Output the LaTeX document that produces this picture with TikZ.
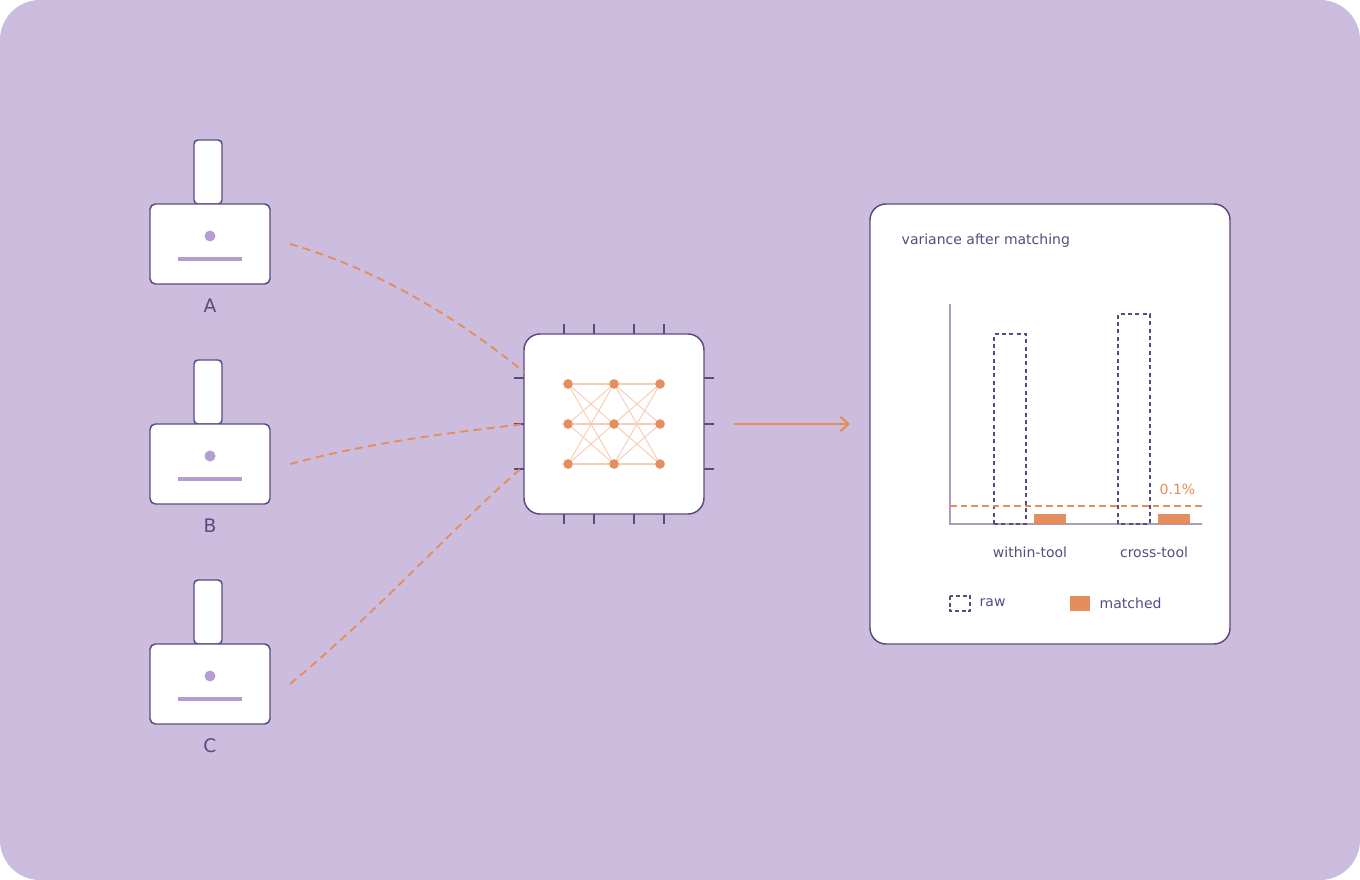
\documentclass[tikz,border=0pt]{standalone}
\usepackage{fontspec}
\setmainfont{DejaVu Sans}
\usetikzlibrary{arrows.meta}
\definecolor{bg}{HTML}{CCBCDD}
\definecolor{dk}{HTML}{5B4A80}
\definecolor{org}{HTML}{E68D5E}
\definecolor{lor}{HTML}{F5CDB5}
\definecolor{lav}{HTML}{B39DD3}
\definecolor{ax}{HTML}{A99BBE}
\begin{document}
\begin{tikzpicture}[x=0.75pt,y=-0.75pt,
  box/.style={draw=dk,fill=white,line width=1.1pt},
  lbl/.style={text=dk,font=\fontsize{10.5}{12}\selectfont},
  big/.style={text=dk,font=\fontsize{14}{16}\selectfont},
  cable/.style={org,dashed,line width=1.4pt,dash pattern=on 6pt off 4pt},
  nn/.style={circle,fill=org,inner sep=0pt,minimum size=7pt},
  pin/.style={dk,line width=1.1pt}]
\fill[bg,rounded corners=30] (0,0) rectangle (1360,880);
\useasboundingbox (0,0) rectangle (1360,880);
% tools
\foreach \n/\l/\dy in {ta/A/0,tb/B/220,tc/C/440}{
  \draw[box,rounded corners=3] (194,140+\dy) rectangle (222,204+\dy);
  \draw[box,rounded corners=4] (150,204+\dy) rectangle (270,284+\dy);
  \fill[lav] (210,236+\dy) circle (5.5);
  \draw[lav,line width=3pt] (178,259+\dy) -- (242,259+\dy);
  \coordinate (\n) at (290,244+\dy);
  \node[big] at (210,306+\dy) {\l};
}
% chip
\foreach \x in {564,594,634,664}{\draw[pin] (\x,324)--(\x,334); \draw[pin] (\x,514)--(\x,524);}
\foreach \y in {378,424,469}{\draw[pin] (514,\y)--(524,\y); \draw[pin] (704,\y)--(714,\y);}
\draw[box,rounded corners=12] (524,334) rectangle (704,514);
\coordinate (ina) at (524,372); \coordinate (inb) at (524,424); \coordinate (inc) at (524,466);
\coordinate (out) at (734,424); \coordinate (pan) at (850,424);
\foreach \i/\y in {1/384,2/424,3/464}{
  \foreach \j/\x in {1/568,2/614,3/660}{\node[nn] (n\j\i) at (\x,\y) {};}}
\begin{scope}[on background layer/.try]
\end{scope}
\foreach \a in {1,2}{ \pgfmathtruncatemacro\b{\a+1}
  \foreach \i in {1,2,3}{\foreach \k in {1,2,3}{
    \ifnum\i=\k \draw[lor,line width=1.6pt] (n\a\i)--(n\b\k);
    \else \draw[lor,line width=0.7pt] (n\a\i)--(n\b\k);\fi}}}
\foreach \i in {1,2,3}{\foreach \j in {1,2,3}{\node[nn] at (n\j\i) {};}}
% cables
\draw[cable] (ta) .. controls (380,270) and (460,320) .. (ina);
\draw[cable] (tb) .. controls (380,440) and (460,432) .. (inb);
\draw[cable] (tc) .. controls (380,610) and (460,520) .. (inc);
\draw[org,line width=1.6pt,-{Straight Barb[length=6pt,width=11pt]}] (out) -- (pan);
% panel
\draw[box,rounded corners=12] (870,204) rectangle (1230,644);
\node[lbl,anchor=west] at (897,241) {variance after matching};
\draw[ax,line width=1.2pt] (950,304) -- (950,524) -- (1202,524);
\draw[dk,dashed,line width=1.1pt,dash pattern=on 3pt off 2.5pt] (994,524) rectangle (1026,334);
\draw[dk,dashed,line width=1.1pt,dash pattern=on 3pt off 2.5pt] (1118,524) rectangle (1150,314);
\fill[org] (1034,514) rectangle (1066,523.5);
\fill[org] (1158,514) rectangle (1190,523.5);
\draw[org,dashed,line width=1pt,dash pattern=on 5pt off 3pt] (950,506) -- (1202,506);
\node[lbl,text=org,anchor=east] at (1200,489) {0.1\%};
\node[lbl] at (1030,552) {within-tool};
\node[lbl] at (1154,552) {cross-tool};
\draw[dk,dashed,line width=1pt,dash pattern=on 3pt off 2pt] (950,596) rectangle (970,611);
\node[lbl,anchor=west] at (975,603) {raw};
\fill[org] (1070,596) rectangle (1090,611);
\node[lbl,anchor=west] at (1095,603) {matched};
\end{tikzpicture}
\end{document}
